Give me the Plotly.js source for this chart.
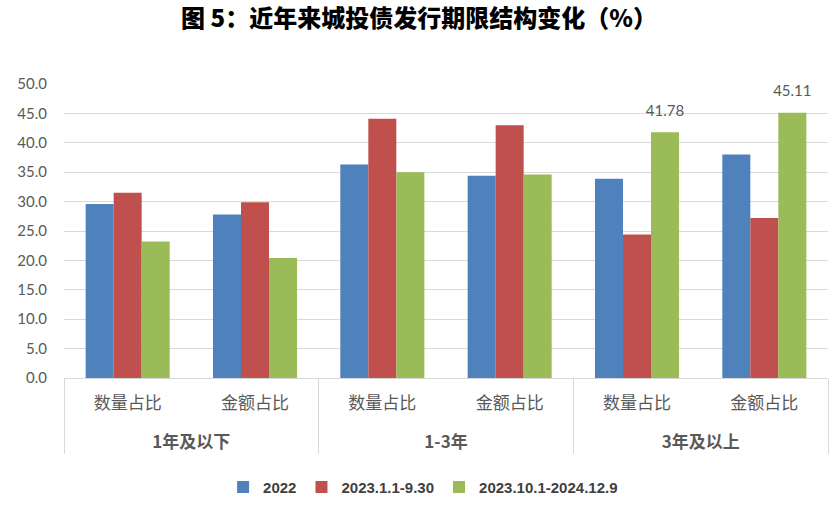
<!DOCTYPE html>
<html>
<head>
<meta charset="utf-8">
<script src="https://cdn.plot.ly/plotly-3.0.1.min.js"></script>
<style>html,body{margin:0;padding:0;background:#fff;}#chart{width:838px;height:510px;}</style>
</head>
<body>
<div id="chart"></div>
<script>
const groups = ["1年及以下", "1年及以下", "1-3年", "1-3年", "3年及以上", "3年及以上"];
const categories = ["数量占比", "金额占比", "数量占比", "金额占比", "数量占比", "金额占比"];
const seriesNames = ["2022", "2023.1.1-9.30", "2023.10.1-2024.12.9"];
const values2022 = [29.6, 27.8, 36.3, 34.4, 33.9, 38.0];
const values2023 = [31.5, 29.9, 44.1, 43.0, 24.4, 27.2];
const values2024 = [23.2, 20.4, 35.0, 34.6, 41.78, 45.11];
const labels2024 = ["", "", "", "", "41.78", "45.11"];
const colors = ["#4F81BD", "#C0504D", "#9BBB59"];

const NB = "\u00a0";
const xVals = [
  groups.map(g => "<b>" + g + "</b>"),
  categories.map(c => c + "<br>" + NB)
];
const numFont = "Lato, 'Open Sans', sans-serif";

function mk(name, y, color, text) {
  const t = {
    type: "bar", name: name, x: xVals, y: y,
    marker: {color: color},
    hoverinfo: "none"
  };
  if (text) {
    t.text = text.map(s => s ? "<span style='font-size:15px'>" + s + "</span><br>" + NB : "");
    t.texttemplate = "%{text}";
    t.textposition = "outside";
    t.constraintext = "none";
    t.textfont = {family: numFont, size: 9, color: "#595959"};
    t.cliponaxis = false;
  }
  return t;
}

const data = [
  mk(seriesNames[0], values2022, colors[0]),
  mk(seriesNames[1], values2023, colors[1]),
  mk(seriesNames[2], values2024, colors[2], labels2024)
];

const layout = {
  width: 838, height: 510,
  margin: {l: 64, r: 10, t: 84, b: 132, autoexpand: false},
  paper_bgcolor: "#fff", plot_bgcolor: "#fff",
  title: {
    text: "图 5：近年来城投债发行期限结构变化（%）",
    font: {family: "'Noto Sans CJK SC', sans-serif", size: 24, color: "#000", weight: 900},
    x: 0.5, xanchor: "center", y: 0.963, yanchor: "middle"
  },
  barmode: "group", bargap: 0.34, bargroupgap: 0,
  xaxis: {
    type: "multicategory", automargin: false,
    showline: true, linecolor: "#d9d9d9", linewidth: 1,
    showdividers: true, dividercolor: "#d9d9d9", dividerwidth: 1,
    tickfont: {family: "'Noto Sans CJK SC', sans-serif", size: 17, color: "#595959"},
    ticklabelstandoff: 10,
    ticks: "", showgrid: false
  },
  yaxis: {
    range: [0, 50], dtick: 5, tickformat: ".1f", automargin: false,
    showgrid: true, gridcolor: "#d9d9d9", gridwidth: 1,
    zeroline: false, showline: false, ticks: "",
    ticklabelstandoff: 16,
    tickfont: {family: numFont, size: 15, color: "#595959"}
  },
  showlegend: true,
  legend: {
    orientation: "h", x: 0.47, xanchor: "center", y: -0.372, yanchor: "middle",
    font: {family: "'Liberation Sans Narrow', 'Liberation Sans', sans-serif", size: 15, color: "#404040", weight: "bold"},
    itemwidth: 30, tracegroupgap: 0
  }
};

Plotly.newPlot("chart", data, layout, {displayModeBar: false, staticPlot: true});
</script>
</body>
</html>
